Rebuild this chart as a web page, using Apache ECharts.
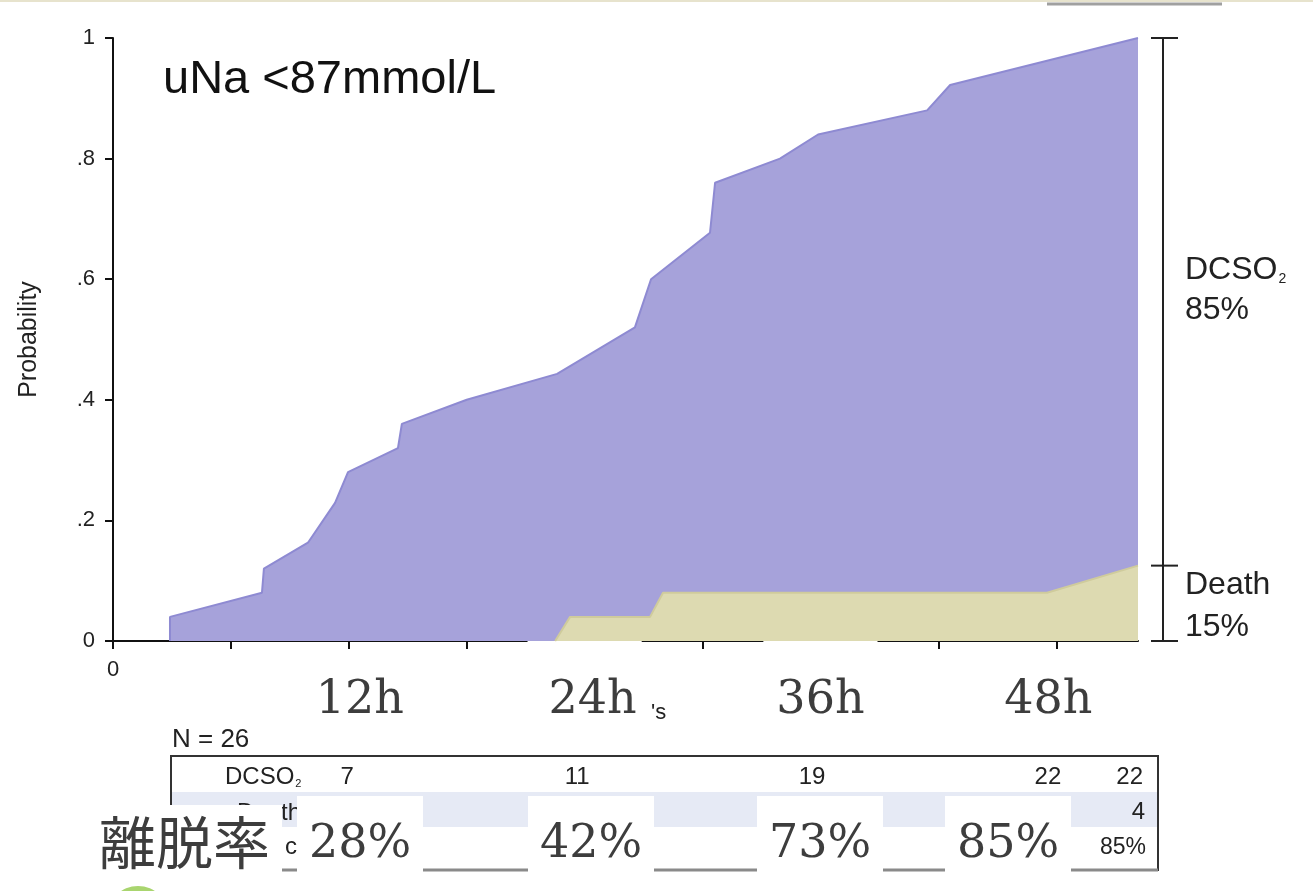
<!DOCTYPE html>
<html>
<head>
<meta charset="utf-8">
<script src="https://cdn.jsdelivr.net/npm/echarts@6/dist/echarts.min.js"></script>
<style>
html, body { margin: 0; padding: 0; background: #fff; }
#main { width: 1313px; height: 891px; }
</style>
</head>
<body>
<div id="main"></div>
<script>
// cumulative probability (DCSO2 + death) against hours
var totalHours = [2.9, 2.9, 7.58, 7.68, 9.92, 11.3, 11.96, 14.5, 14.7, 18.0, 22.6, 26.56, 27.38, 30.38, 30.64, 33.94, 35.88, 41.43, 42.6, 52.16];
var totalProb = [0, 0.04, 0.08, 0.12, 0.163, 0.229, 0.28, 0.32, 0.36, 0.40, 0.443, 0.52, 0.60, 0.677, 0.76, 0.80, 0.84, 0.88, 0.922, 1.0];
// cumulative probability of death
var deathHours = [22.5, 23.26, 27.33, 27.99, 47.53, 52.16];
var deathProb = [0, 0.04, 0.04, 0.08, 0.08, 0.125];

var hourTicks = [0, 6, 12, 18, 24, 30, 36, 42, 48];
var hourLabels = [0, 12, 24, 36, 48];

// number-at-risk table
var tableHours = [12, 24, 36, 48, 52.16];
var dcsoCounts = [7, 11, 19, 22, 22];
var deathLast = 4;
var cumLast = '85%';
var dropoutRates = ['28%', '42%', '73%', '85%'];
var dcsoFinal = '85%';
var deathFinal = '15%';

function pairs(xs, ys) {
  return xs.map(function (x, i) { return [x, ys[i]]; });
}

var sans = 'Liberation Sans, Arial, sans-serif';
var serif = 'DejaVu Serif, serif';
var ink = '#222';
var bigInk = '#3d3d3d';

var chart = echarts.init(document.getElementById('main'));

chart.setOption({
  animation: false,
  backgroundColor: '#fff',
  title: {
    text: 'uNa <87mmol/L',
    left: 158,
    top: 52,
    textStyle: { fontSize: 47, fontWeight: 'normal', color: '#111', fontFamily: sans }
  },
  grid: { left: 113, top: 38, right: 175, bottom: 250, outerBoundsMode: 'none' },
  xAxis: {
    type: 'value',
    min: 0,
    max: 'dataMax',
    interval: 6,
    splitLine: { show: false },
    axisLine: { lineStyle: { color: '#111', width: 2 } },
    axisTick: { customValues: hourTicks, length: 8, lineStyle: { color: '#111', width: 2 } },
    axisLabel: {
      customValues: hourLabels,
      margin: -2,
      formatter: function (v) {
        if (v === 0) return '{z|0}';
        return '{h' + v + '|' + v + 'h}';
      },
      rich: {
        z: { fontSize: 22, fontFamily: sans, color: ink, padding: [20, 0, 0, 0] },
        h12: { fontSize: 46, fontFamily: serif, color: bigInk, padding: [39, 0, 0, 22] },
        h24: { fontSize: 46, fontFamily: serif, color: bigInk, backgroundColor: '#fff', padding: [39, 5, 8, 21] },
        h36: { fontSize: 46, fontFamily: serif, color: bigInk, backgroundColor: '#fff', padding: [39, 13, 8, 13] },
        h48: { fontSize: 46, fontFamily: serif, color: bigInk, padding: [39, 16, 0, 0] }
      }
    }
  },
  yAxis: {
    type: 'value',
    min: 0,
    max: 1,
    interval: 0.2,
    name: 'Probability',
    nameLocation: 'middle',
    nameRotate: 90,
    nameGap: 71,
    nameMoveOverlap: false,
    nameTextStyle: { fontSize: 25, color: ink, fontFamily: sans },
    splitLine: { show: false },
    axisLine: { show: true, lineStyle: { color: '#111', width: 2 } },
    axisTick: { show: true, length: 8, lineStyle: { color: '#111', width: 2 } },
    axisLabel: {
      margin: 18,
      fontSize: 22,
      color: ink,
      fontFamily: sans,
      formatter: function (v) {
        if (v === 0 || v === 1) return String(v);
        return '.' + Math.round(v * 10);
      }
    }
  },
  series: [
    {
      name: 'DCSO2',
      type: 'line',
      symbol: 'none',
      data: pairs(totalHours, totalProb),
      lineStyle: { color: '#8e8ad2', width: 2 },
      areaStyle: { color: '#a6a2da', opacity: 1 },
      z: 2
    },
    {
      name: 'Death',
      type: 'line',
      symbol: 'none',
      data: pairs(deathHours, deathProb),
      lineStyle: { color: '#cfcb9c', width: 2 },
      areaStyle: { color: '#dddab1', opacity: 1 },
      z: 3
    }
  ]
});

function px(h) { return chart.convertToPixel({ xAxisIndex: 0 }, h); }
function py(p) { return chart.convertToPixel({ yAxisIndex: 0 }, p); }

var g = [];
function txt(x, y, text, font, opts) {
  opts = opts || {};
  var el = {
    type: 'text', z: opts.z || 102,
    style: { x: x, y: y, text: text, font: font, fill: opts.fill || ink, align: opts.align || 'left', verticalAlign: 'middle' }
  };
  if (opts.rich) el.style.rich = opts.rich;
  g.push(el);
}

// slide decorations
g.push({ type: 'rect', z: 100, shape: { x: 0, y: 0, width: 1313, height: 2 }, style: { fill: '#e7e3cd' } });
g.push({ type: 'line', z: 100, shape: { x1: 1047, y1: 4, x2: 1222, y2: 4 }, style: { stroke: '#a0a0a0', lineWidth: 3 } });
g.push({ type: 'circle', z: 100, shape: { cx: 138, cy: 917, r: 31 }, style: { fill: '#a9d56f' } });

// right bracket
var bx = 1163;
var yTop = py(totalProb[totalProb.length - 1]);
var yMid = py(deathProb[deathProb.length - 1]);
var yBot = py(0);
g.push({ type: 'line', z: 100, shape: { x1: bx, y1: yTop, x2: bx, y2: yBot }, style: { stroke: ink, lineWidth: 2 } });
[yTop, yMid, yBot].forEach(function (y) {
  g.push({ type: 'line', z: 100, shape: { x1: bx - 12, y1: y, x2: bx + 15, y2: y }, style: { stroke: ink, lineWidth: 2 } });
});
txt(1185, 270, '{m|DCSO}{s|2}', '32px ' + sans, { rich: {
  m: { fontSize: 32, fontFamily: sans, color: ink },
  s: { fontSize: 14, fontFamily: sans, color: ink, padding: [18, 0, 0, 1] }
} });
txt(1185, 310, dcsoFinal, '32px ' + sans);
txt(1185, 585, 'Death', '32px ' + sans);
txt(1185, 627, deathFinal, '32px ' + sans);

// remnant of the original axis name
txt(651, 713, '\'s', '22px ' + sans);

// number-at-risk table
txt(172, 740, 'N = 26', '26px ' + sans);
g.push({ type: 'rect', z: 100, shape: { x: 171, y: 792, width: 987, height: 35 }, style: { fill: '#e6eaf5' } });
g.push({ type: 'rect', z: 101, shape: { x: 171, y: 756, width: 987, height: 114 }, style: { fill: null, stroke: '#333', lineWidth: 2 } });
g.push({ type: 'line', z: 101, shape: { x1: 171, y1: 870, x2: 1158, y2: 870 }, style: { stroke: '#8a8a8a', lineWidth: 3 } });
txt(225, 777, '{m|DCSO}{s|2}', '24px ' + sans, { rich: {
  m: { fontSize: 24, fontFamily: sans, color: ink },
  s: { fontSize: 11, fontFamily: sans, color: ink, padding: [13, 0, 0, 1] }
} });
txt(237, 813, 'Death', '24px ' + sans);
txt(285, 847, 'c', '24px ' + sans);
dcsoCounts.forEach(function (n, i) {
  txt(px(tableHours[i]) + 5, 777, String(n), '24px ' + sans, { align: 'right' });
});
txt(px(tableHours[4]) + 7, 812, String(deathLast), '24px ' + sans, { align: 'right' });
txt(px(tableHours[4]) + 8, 848, cumLast, '23px ' + sans, { align: 'right' });

// overlay boxes with drop-out rates
g.push({ type: 'rect', z: 105, shape: { x: 97, y: 805, width: 185, height: 68 }, style: { fill: '#fff' } });
txt(99, 842, '離脱率', '57px Noto Sans CJK JP', { z: 110, fill: bigInk });
var rateBoxX = [297, 528, 757, 945];
dropoutRates.forEach(function (r, i) {
  g.push({ type: 'rect', z: 105, shape: { x: rateBoxX[i], y: 796, width: 126, height: 77 }, style: { fill: '#fff' } });
  txt(rateBoxX[i] + 63, 845, r, '46px ' + serif, { z: 110, fill: bigInk, align: 'center' });
});

chart.setOption({ graphic: { elements: g } });
</script>
</body>
</html>
